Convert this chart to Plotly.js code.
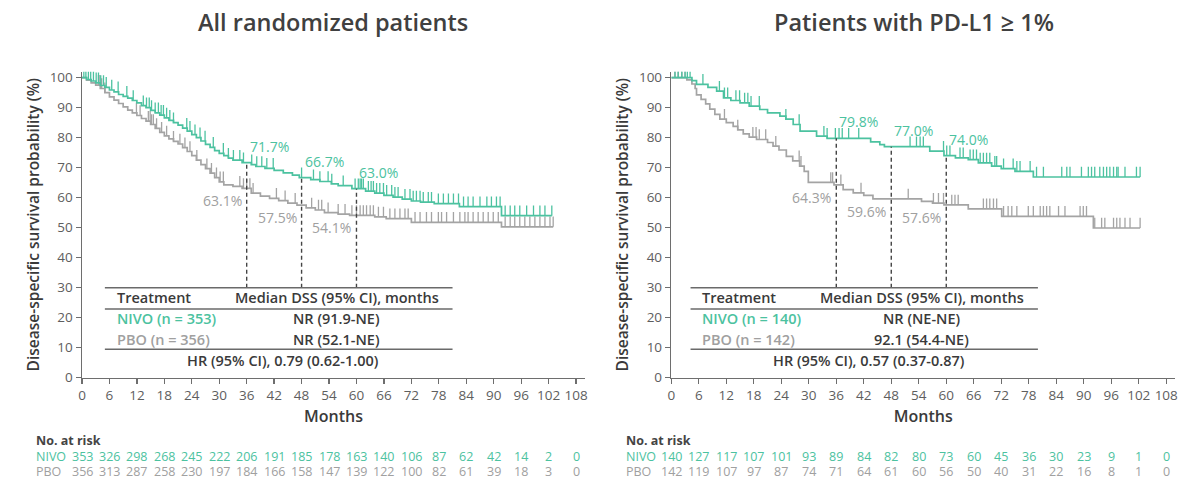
<!DOCTYPE html>
<html>
<head>
<meta charset="utf-8">
<script src="https://cdn.plot.ly/plotly-3.0.1.min.js"></script>
<style>
  html, body { margin: 0; padding: 0; background: #ffffff; }
  #chart { width: 1200px; height: 488px; }
</style>
</head>
<body>
<div id="chart"></div>
<script>
// ---------- data ----------
const monthTicks = [0, 6, 12, 18, 24, 30, 36, 42, 48, 54, 60, 66, 72, 78, 84, 90, 96, 102, 108];
const landmarkMonths = [36, 48, 60];

// All randomized patients — NIVO
const allNivoTimes = [0,1,2,3,4,5,6,7,8,9,10,11,12,13,14,15,16,17,18,19,20,21,22,23,24,25,26,27,28,29,30,31,32,33,35,37,38,40,42,44,46,47.5,50,52,54.5,56,59,62,64,66,68,70,72,74,77,82.5,91.7];
const allNivoSurv  = [100,99.4,98.9,98.3,97.4,96.8,95.9,95.3,94.4,93.8,93.2,92.4,91.6,90.7,90.0,89.1,88.3,87.5,86.6,85.8,85.0,84.2,83.2,82.2,81.0,80.0,78.9,77.8,76.8,75.7,74.8,74.0,73.2,72.5,71.7,71.0,70.4,69.8,69.1,68.3,67.5,66.7,66.0,65.4,64.6,64.0,63.0,62.2,61.5,60.8,60.2,59.5,58.9,58.5,58.0,57.0,54.0];
const allNivoCensor = [0.4,0.85,1.4,1.9,2.5,3.1,3.6,4.1,4.7,5.3,6.5,7.9,9.8,11.2,13.4,14.1,14.7,15.2,16.0,16.7,17.3,17.8,18.5,19.2,20.0,22.9,23.6,24.7,25.8,26.9,28.7,30.9,32.0,33.1,34.5,35.3,37.1,38.2,39.3,40.4,41.8,48.0,50.6,52.0,53.8,54.6,57.1,59.7,60.4,60.8,61.1,61.5,62.6,63.2,63.7,64.4,65.1,65.9,66.6,67.7,68.4,69.1,70.6,71.7,72.4,73.1,73.9,74.6,75.7,76.4,77.9,79.0,80.1,81.2,82.3,83.4,84.4,85.5,87.0,88.5,89.5,90.6,91.4,92.5,93.6,94.6,95.7,97.2,98.7,100.1,101.2,102.7];

// All randomized patients — PBO
const allPboTimes = [0,1,2,3,4,5,6,7,8,9,10,11,12,13,14,15,16,17,18,19,20,21,22,23,24,25,26,27,28,29,30,31,33,35,37,39,41,43,45,47,49,51,53,56,58.5,64,66.5,72,91.7];
const allPboSurv  = [100,99.2,98.3,97.5,96.4,95.0,93.6,92.5,91.4,90.3,89.2,88.3,87.4,86.4,85.5,84.4,83.1,81.8,80.6,79.6,78.8,77.9,76.7,75.4,74.0,72.5,71.0,69.7,68.2,66.7,65.3,64.3,63.8,63.1,61.5,60.5,59.8,59.0,58.2,57.5,56.6,55.9,55.0,54.5,54.1,53.6,53.0,51.8,50.3];
const allPboCensor = [3.6,3.9,4.3,5.0,11.9,12.7,14.5,14.9,15.2,15.6,16.3,17.4,18.5,20.0,21.4,22.5,23.6,25.1,27.3,28.3,29.4,30.2,30.9,34.5,35.3,36.0,36.7,37.4,42.5,44.4,46.6,50.2,51.7,52.4,53.8,56.0,57.5,59.0,60.0,60.8,61.5,62.2,63.0,63.7,64.8,65.9,67.3,68.4,69.5,70.6,71.3,72.8,73.9,75.3,76.4,77.9,78.6,79.7,81.2,82.6,83.7,84.4,85.5,86.6,87.7,88.8,89.9,91.0,92.5,93.6,94.6,95.7,96.8,97.9,99.0,100.1,101.2,102.3,103.0];

// PD-L1 >= 1% — NIVO
const pdNivoTimes = [0,4.5,5.5,8,9.9,11.4,13,15,17,19.3,21,23.7,25,26.6,28.1,31.7,34,43.5,45.5,46.5,56.4,59.5,62,64.8,67,69.9,72,75,79];
const pdNivoSurv  = [100,99.0,97.8,96.8,95.5,93.3,92.4,91.6,90.5,89.4,88.3,87.2,86.2,84.4,82.2,80.5,79.8,78.6,77.7,77.0,75.5,74.0,73.3,72.7,71.6,70.5,69.7,68.8,66.9];
const pdNivoCensor = [0.8,1.5,2.3,3.0,3.5,4.1,6.9,10.5,11.6,12.3,14.1,14.9,16.0,16.7,17.4,19.2,25.0,27.9,33.3,34.0,35.8,36.6,37.3,38.7,40.9,52.1,53.5,54.3,55.0,59.4,60.1,60.8,63.0,63.7,65.2,65.9,66.6,67.4,68.1,68.8,69.5,70.6,71.0,72.5,74.6,75.4,76.1,78.3,79.7,81.2,85.2,86.3,87.0,89.5,91.0,91.7,92.4,93.5,94.3,95.0,95.7,96.5,97.2,97.5,99.0,101.5,102.3];

// PD-L1 >= 1% — PBO
const pdPboTimes = [0,3.4,4.5,5.2,5.5,6.5,7.5,8.4,9.5,10.6,12,13.5,14.5,15.7,17,18.6,21,22.2,23.5,25.1,26.5,28,29,29.9,35.5,37.5,39.7,42,44,54.6,57,59.5,64.8,72.1,92.1];
const pdPboSurv  = [100,99.3,97.9,96.4,94.3,92.8,91.3,89.5,87.8,86.2,85.0,83.8,82.6,81.3,80.2,79.4,78.4,77.2,75.9,73.8,72.3,70.5,68.8,65.1,64.3,62.7,61.6,60.8,59.6,58.8,58.2,57.6,56.3,53.8,49.9];
const pdPboCensor = [0.8,1.5,2.3,3.0,11.6,14.5,17.8,18.5,19.2,20.6,22.8,27.9,28.3,34.8,35.2,37.0,41.4,51.7,57.2,58.3,59.4,61.2,61.9,62.6,68.1,68.8,69.5,70.3,71.0,72.5,73.5,74.3,75.4,77.9,79.0,80.5,81.2,81.9,82.6,84.5,85.9,89.2,89.9,90.6,92.4,93.9,94.6,96.5,97.2,97.9,99.0,100.1,102.3];

// landmark survival rates (%)
const allNivoLandmark = [71.7, 66.7, 63.0];
const allPboLandmark  = [63.1, 57.5, 54.1];
const pdNivoLandmark  = [79.8, 77.0, 74.0];
const pdPboLandmark   = [64.3, 59.6, 57.6];

// numbers at risk (every 6 months)
const allNivoRisk = [353, 326, 298, 268, 245, 222, 206, 191, 185, 178, 163, 140, 106, 87, 62, 42, 14, 2, 0];
const allPboRisk  = [356, 313, 287, 258, 230, 197, 184, 166, 158, 147, 139, 122, 100, 82, 61, 39, 18, 3, 0];
const pdNivoRisk  = [140, 127, 117, 107, 101, 93, 89, 84, 82, 80, 73, 60, 45, 36, 30, 23, 9, 1, 0];
const pdPboRisk   = [142, 119, 107, 97, 87, 74, 71, 64, 61, 60, 56, 50, 40, 31, 22, 16, 8, 1, 0];

// summary table text
const panelTitles = ['All randomized patients', 'Patients with PD-L1 \u2265 1%'];
const nivoArmLabels = ['NIVO (n = 353)', 'NIVO (n = 140)'];
const pboArmLabels  = ['PBO (n = 356)', 'PBO (n = 142)'];
const nivoMedians = ['NR (91.9-NE)', 'NR (NE-NE)'];
const pboMedians  = ['NR (52.1-NE)', '92.1 (54.4-NE)'];
const hazardRatios = ['HR (95% CI), 0.79 (0.62-1.00)', 'HR (95% CI), 0.57 (0.37-0.87)'];

// ---------- styling ----------
const FONT = 'Open Sans, sans-serif';
const TEAL = '#4cc2a0';
const GREY = '#a4a4a4';
const GREY_TEXT = '#a0a0a0';
const DARK = '#3a3a3a';
const AXIS = '#6e6e6e';
const TICK_H = 3.4;    // censor tick height, % units

function stepValue(times, surv, t) {
  let v = surv[0];
  for (let i = 0; i < times.length; i++) { if (times[i] <= t) v = surv[i]; else break; }
  return v;
}

function curveTraces(times, surv, censor, color, xa, ya) {
  const end = censor[censor.length - 1];
  const line = {
    x: times.concat([end]), y: surv.concat([surv[surv.length - 1]]),
    xaxis: xa, yaxis: ya, mode: 'lines', line: { shape: 'hv', color: color, width: 1.7 },
    hoverinfo: 'skip', showlegend: false
  };
  const ticks = {
    x: censor, y: censor.map(t => stepValue(times, surv, t)),
    xaxis: xa, yaxis: ya, mode: 'markers', marker: { size: 1, opacity: 0 },
    error_y: { type: 'data', symmetric: false, array: censor.map(() => TICK_H),
               arrayminus: censor.map(() => 0), width: 0, thickness: 1.3, color: color },
    hoverinfo: 'skip', showlegend: false
  };
  return [line, ticks];
}

const traces = [].concat(
  curveTraces(allPboTimes, allPboSurv, allPboCensor, GREY, 'x', 'y'),
  curveTraces(allNivoTimes, allNivoSurv, allNivoCensor, TEAL, 'x', 'y'),
  curveTraces(pdPboTimes, pdPboSurv, pdPboCensor, GREY, 'x2', 'y2'),
  curveTraces(pdNivoTimes, pdNivoSurv, pdNivoCensor, TEAL, 'x2', 'y2')
);

const shapes = [];
const annotations = [];

// summary table geometry (axis units)
const TABLE = [{ x0: 5, x1: 81, colL: 7.2, colM: 55.7, colHR: 43.9 },
               { x0: 4.2, x1: 80, colL: 6.3, colM: 54.7, colHR: 43.1 }];
const TABLE_TOP = 30, TABLE_MID = 22.9, TABLE_BOT = 9.5;
const ROW_Y = [26.6, 19.6, 12.9, 5.9];

const panels = [
  { xr: 'x', yr: 'y', nivo: allNivoLandmark, pbo: allPboLandmark, nr: allNivoRisk, pr: allPboRisk,
    titleX: 333 / 1200, riskLabelX: 34 / 1200 },
  { xr: 'x2', yr: 'y2', nivo: pdNivoLandmark, pbo: pdPboLandmark, nr: pdNivoRisk, pr: pdPboRisk,
    titleX: 914 / 1200, riskLabelX: 624 / 1200 }
];

panels.forEach((p, k) => {
  const T = TABLE[k];
  // dashed landmark lines and labels
  landmarkMonths.forEach((m, i) => {
    shapes.push({ type: 'line', xref: p.xr, yref: p.yr, x0: m, x1: m, y0: TABLE_TOP, y1: p.nivo[i],
                  line: { color: '#444', width: 1.4, dash: '4px,3px' } });
    annotations.push({ xref: p.xr, yref: p.yr, x: m, y: p.nivo[i], text: p.nivo[i].toFixed(1) + '%',
                       showarrow: false, xanchor: 'left', yanchor: 'bottom', xshift: 1, yshift: 5,
                       font: { family: FONT, size: 14, color: TEAL, weight: 500 } });
    annotations.push({ xref: p.xr, yref: p.yr, x: m, y: p.pbo[i], text: p.pbo[i].toFixed(1) + '%',
                       showarrow: false, xanchor: 'right', yanchor: 'top', xshift: -3, yshift: -1,
                       font: { family: FONT, size: 14, color: GREY_TEXT } });
  });
  // table rules
  [TABLE_TOP, TABLE_MID, TABLE_BOT].forEach(yv => {
    shapes.push({ type: 'line', xref: p.xr, yref: p.yr, x0: T.x0, x1: T.x1, y0: yv, y1: yv,
                  line: { color: '#6a6a6a', width: 1.6 } });
  });
  const tfont = (c) => ({ family: FONT, size: 14.5, color: c, weight: 600 });
  annotations.push({ xref: p.xr, yref: p.yr, x: T.colL, y: ROW_Y[0], text: 'Treatment', showarrow: false, xanchor: 'left', font: tfont(DARK) });
  annotations.push({ xref: p.xr, yref: p.yr, x: T.colM, y: ROW_Y[0], text: 'Median DSS (95% CI), months', showarrow: false, xanchor: 'center', font: tfont(DARK) });
  annotations.push({ xref: p.xr, yref: p.yr, x: T.colL, y: ROW_Y[1], text: nivoArmLabels[k], showarrow: false, xanchor: 'left', font: tfont(TEAL) });
  annotations.push({ xref: p.xr, yref: p.yr, x: T.colM, y: ROW_Y[1], text: nivoMedians[k], showarrow: false, xanchor: 'center', font: tfont(DARK) });
  annotations.push({ xref: p.xr, yref: p.yr, x: T.colL, y: ROW_Y[2], text: pboArmLabels[k], showarrow: false, xanchor: 'left', font: tfont(GREY_TEXT) });
  annotations.push({ xref: p.xr, yref: p.yr, x: T.colM, y: ROW_Y[2], text: pboMedians[k], showarrow: false, xanchor: 'center', font: tfont(DARK) });
  annotations.push({ xref: p.xr, yref: p.yr, x: T.colHR, y: ROW_Y[3], text: hazardRatios[k], showarrow: false, xanchor: 'center', font: tfont(DARK) });

  // panel title
  annotations.push({ xref: 'paper', yref: 'paper', x: p.titleX, y: 466 / 488, text: panelTitles[k],
                     showarrow: false, xanchor: 'center', yanchor: 'middle', font: { family: FONT, size: 23.5, color: '#404040', weight: 600 } });

  // numbers at risk
  annotations.push({ xref: 'paper', yref: 'paper', x: p.riskLabelX, y: 47.3 / 488, text: 'No. at risk',
                     showarrow: false, xanchor: 'left', yanchor: 'middle', font: { family: FONT, size: 12.5, color: '#444', weight: 700 } });
  annotations.push({ xref: 'paper', yref: 'paper', x: p.riskLabelX, y: 31.7 / 488, text: 'NIVO',
                     showarrow: false, xanchor: 'left', yanchor: 'middle', font: { family: FONT, size: 12.5, color: TEAL } });
  annotations.push({ xref: 'paper', yref: 'paper', x: p.riskLabelX, y: 16.7 / 488, text: 'PBO',
                     showarrow: false, xanchor: 'left', yanchor: 'middle', font: { family: FONT, size: 12.5, color: GREY_TEXT } });
  monthTicks.forEach((m, i) => {
    annotations.push({ xref: p.xr, yref: 'paper', x: m, y: 31.7 / 488, text: String(p.nr[i]), showarrow: false,
                       xanchor: 'center', yanchor: 'middle', font: { family: FONT, size: 12.5, color: TEAL } });
    annotations.push({ xref: p.xr, yref: 'paper', x: m, y: 16.7 / 488, text: String(p.pr[i]), showarrow: false,
                       xanchor: 'center', yanchor: 'middle', font: { family: FONT, size: 12.5, color: GREY_TEXT } });
  });
});

function xAxis(domain, anchor) {
  return {
    domain: domain, anchor: anchor, range: [0, 110], tickvals: monthTicks, ticktext: monthTicks.map(String),
    showline: true, linecolor: AXIS, linewidth: 1.5, ticks: 'outside', ticklen: 5, tickwidth: 1.3, tickcolor: AXIS,
    showgrid: false, zeroline: false, fixedrange: true,
    tickfont: { family: FONT, size: 13.5, color: '#5e5e5e' },
    title: { text: 'Months', standoff: 7, font: { family: FONT, size: 16, color: '#3a3a3a', weight: 600 } }
  };
}
function yAxis(domain, anchor) {
  return {
    domain: domain, anchor: anchor, range: [0, 102], tickvals: [0,10,20,30,40,50,60,70,80,90,100],
    showline: true, linecolor: AXIS, linewidth: 1.5, ticks: 'outside', ticklen: 5, tickwidth: 1.3, tickcolor: AXIS,
    showgrid: false, zeroline: false, fixedrange: true,
    tickfont: { family: FONT, size: 13.5, color: '#5e5e5e' },
    title: { text: 'Disease-specific survival probability (%)', standoff: 6, font: { family: FONT, size: 15.5, color: '#3a3a3a', weight: 600 } }
  };
}

const yDom = [(488 - 377.7) / 488, (488 - 71.7) / 488];
const layout = {
  width: 1200, height: 488,
  margin: { l: 0, r: 0, t: 0, b: 0 },
  paper_bgcolor: '#ffffff', plot_bgcolor: 'rgba(0,0,0,0)',
  showlegend: false,
  xaxis: xAxis([82 / 1200, 585.2 / 1200], 'y'),
  yaxis: yAxis(yDom, 'x'),
  xaxis2: xAxis([671.3 / 1200, 1175.4 / 1200], 'y2'),
  yaxis2: yAxis(yDom, 'x2'),
  shapes: shapes,
  annotations: annotations
};

Plotly.newPlot('chart', traces, layout, { displayModeBar: false, staticPlot: true });
</script>
</body>
</html>
